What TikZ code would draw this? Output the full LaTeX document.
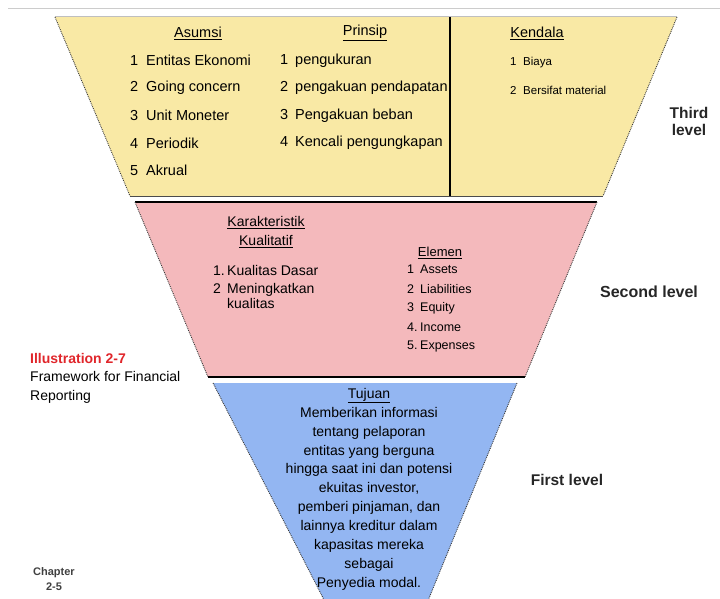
\documentclass[tikz,border=0pt]{standalone}
\usepackage{fontspec}
\setmainfont{Liberation Sans}
\usetikzlibrary{positioning}

\definecolor{thirdfill}{HTML}{F9E9A5}
\definecolor{secondfill}{HTML}{F4B9BC}
\definecolor{firstfill}{HTML}{93B6F2}
\definecolor{edgegray}{HTML}{3A3A3A}
\definecolor{illred}{HTML}{E0262B}

\begin{document}
\begin{tikzpicture}[x=1pt, y=-1pt,
	item/.style={anchor=west, inner sep=0pt, font=\fontsize{14.5}{16}\selectfont},
	head/.style={inner sep=0pt, font=\fontsize{14.5}{16}\selectfont},
	slant/.style={draw=edgegray, densely dotted, line width=0.9pt},
	level/.style={inner sep=0pt, align=center, font=\bfseries\fontsize{15.5}{17}\selectfont, text=black!85}]
	\useasboundingbox (0,0) rectangle (720,599);
	\draw[black!20, line width=1pt] (8,9) -- (720,9);

	% third level
	\fill[thirdfill] (55,17) -- (677,17) -- (603,196) -- (130,196) -- cycle;
	\draw[black!25, line width=1pt] (55,17) -- (677,17);
	\draw[black!70, line width=1pt] (130,196) -- (603,196);
	\draw[slant] (55,17) -- (130,196);
	\draw[slant] (677,17) -- (603,196);
	\draw[black, line width=1.2pt] (450,17) -- (450,196);

	\node[head] (asumsi) at (198,33) {\underline{Asumsi}};
	\foreach \t [count=\i] in {Entitas Ekonomi, Going concern, Unit Moneter, Periodik, Akrual}
		\node[item] (as\i) at (130,33+27.5*\i) {\makebox[16pt][l]{\i}\t};
	\node[head] (prinsip) at (365,33) {\underline{Prinsip}};
	\foreach \t [count=\i] in {pengukuran, pengakuan pendapatan, Pengakuan beban, Kencali pengungkapan}
		\node[item] (pr\i) at (280,33+27.5*\i) {\makebox[15pt][l]{\i}\t};
	\node[head] (kendala) at (537,33) {\underline{Kendala}};
	\foreach \t [count=\i] in {Biaya, Bersifat material}
		\node[item, font=\fontsize{11.5}{14}\selectfont] (ke\i) at (510,35+27.5*\i) {\makebox[13pt][l]{\i}\t};

	% second level
	\fill[secondfill] (135,202) -- (597,202) -- (525,377) -- (208,377) -- cycle;
	\draw[black, line width=1.3pt] (135,202) -- (597,202);
	\draw[black, line width=1.3pt] (208,377) -- (525,377);
	\draw[slant] (135,202) -- (208,377);
	\draw[slant] (597,202) -- (525,377);

	\node[head, align=center, font=\fontsize{14}{19}\selectfont] (karakter) at (266,232)
		{\underline{Karakteristik}\\\underline{Kualitatif}};
	\node[item, font=\fontsize{14}{15}\selectfont] (ka1) at (213,270) {\makebox[14pt][l]{1.}Kualitas Dasar};
	\node[item, anchor=north west, align=left, font=\fontsize{14}{15.5}\selectfont] (ka2) at (213,283)
		{\makebox[14pt][l]{2}Meningkatkan\\\hspace*{14pt}kualitas};
	\node[head, font=\fontsize{13}{15}\selectfont] (elemen) at (440,253) {\underline{Elemen}};
	\foreach \n/\t [count=\i] in {1/Assets, 2/Liabilities, 3/Equity, 4./Income, 5./Expenses}
		\node[item, font=\fontsize{12.5}{15}\selectfont] (el\i) at (407,250+19.3*\i) {\makebox[13pt][l]{\n}\t};

	% first level
	\begin{scope}
		\clip (0,0) rectangle (720,599);
		\fill[firstfill] (213,383) -- (517,383) -- (382,713) -- cycle;
		\draw[slant] (213,383) -- (382,713);
		\draw[slant] (517,383) -- (382,713);
	\end{scope}
	\node[head, anchor=north, align=center, font=\fontsize{14}{18.9}\selectfont] (tujuan) at (369,388)
		{\underline{Tujuan}\\Memberikan informasi\\tentang pelaporan\\entitas yang berguna\\hingga saat ini dan potensi\\ekuitas investor,\\pemberi pinjaman, dan\\lainnya kreditur dalam\\kapasitas mereka\\sebagai\\Penyedia modal.};

	% labels
	\node[level] (third) at (689,121) {Third\\level};
	\node[level, font=\bfseries\fontsize{16}{17}\selectfont] (second) at (649,292) {Second level};
	\node[level] (first) at (567,480) {First level};
	\node[anchor=north west, inner sep=0pt, align=left, font=\fontsize{14}{18.5}\selectfont] (illus) at (30,353)
		{\textcolor{illred}{\bfseries Illustration 2-7}\\Framework for Financial\\Reporting};
	\node[inner sep=0pt, align=center, font=\bfseries\fontsize{11}{15}\selectfont, text=black!75] (chap) at (54,579)
		{Chapter\\2-5};
\end{tikzpicture}
\end{document}
